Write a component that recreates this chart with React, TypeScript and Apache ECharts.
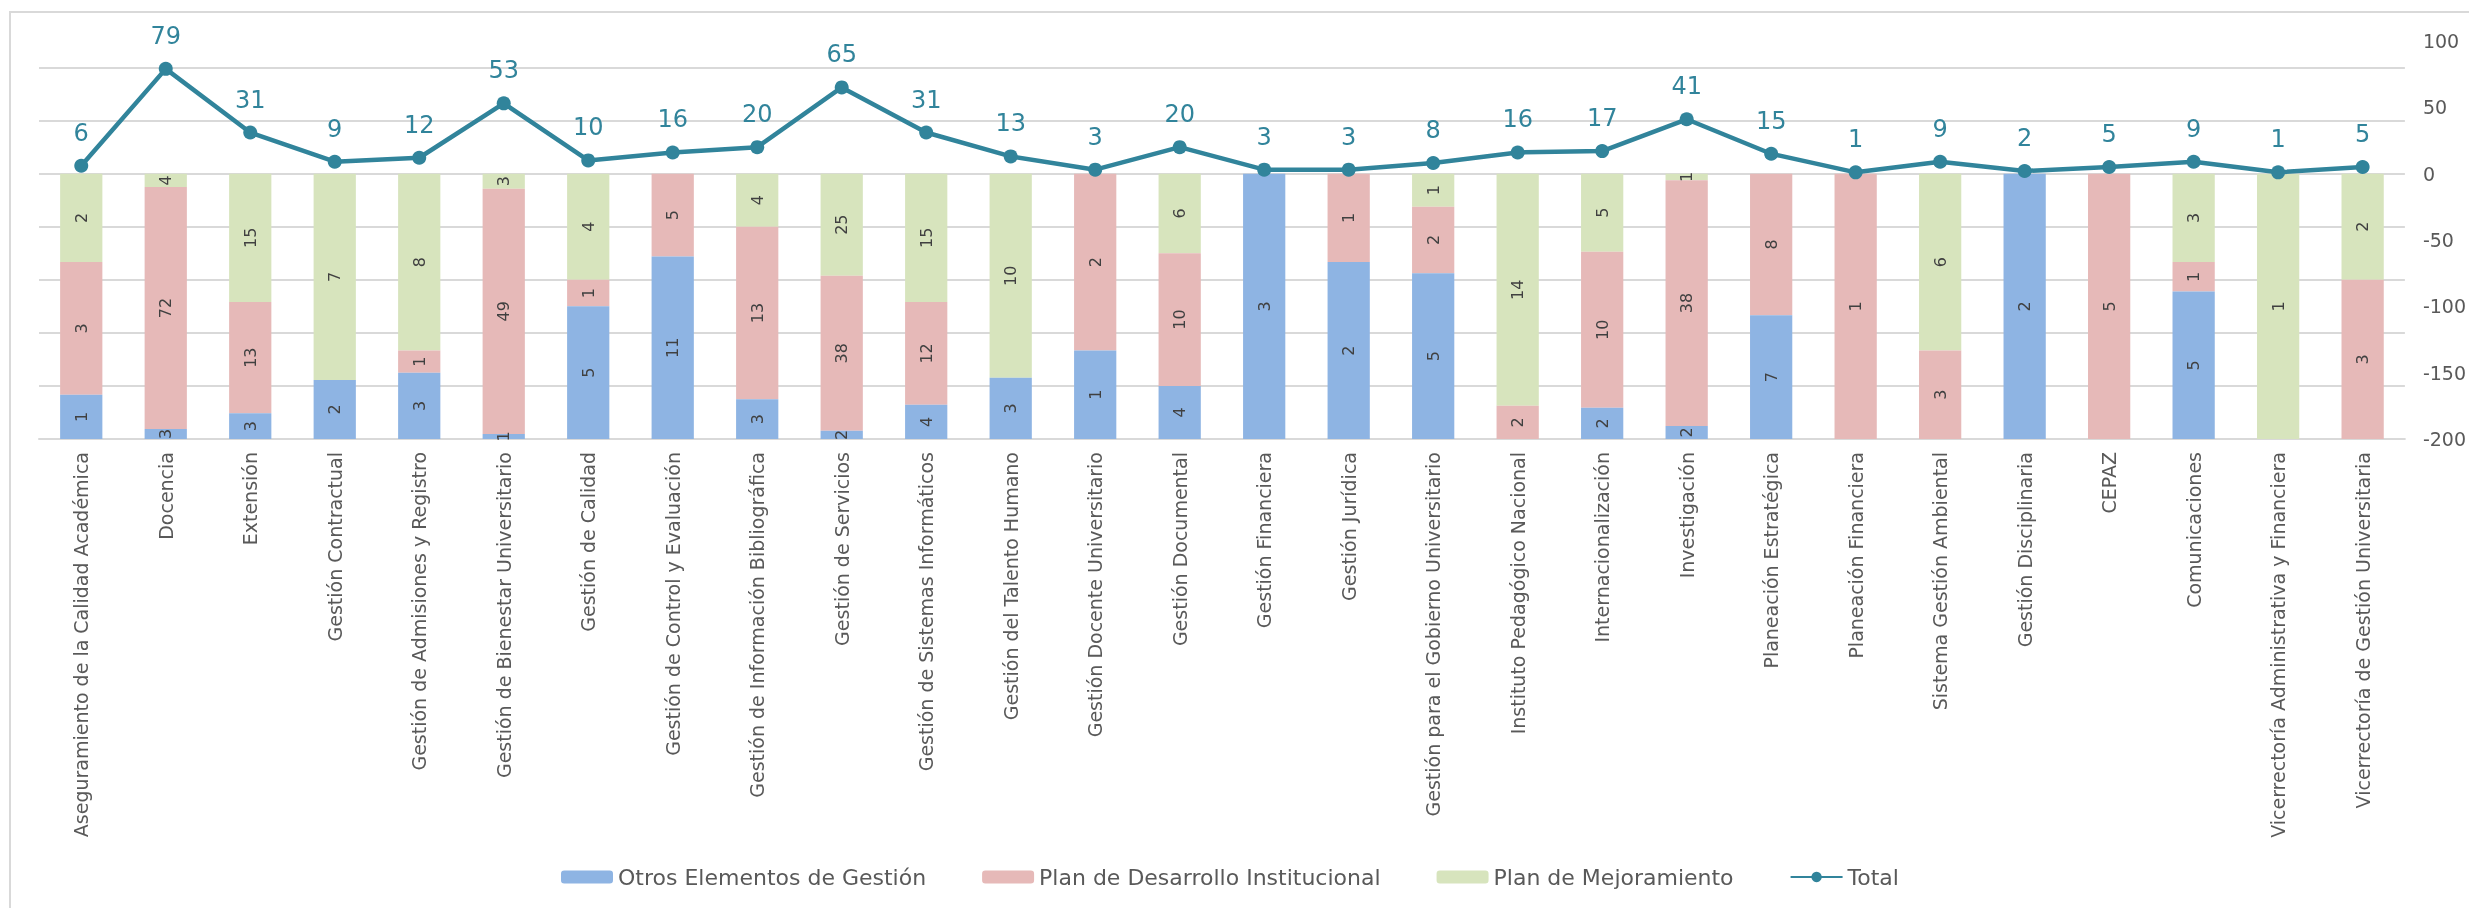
import React, { useEffect, useRef } from "react";
import * as echarts from "echarts";

const categories = [
  "Aseguramiento de la Calidad Académica",
  "Docencia",
  "Extensión",
  "Gestión Contractual",
  "Gestión de Admisiones y Registro",
  "Gestión de Bienestar Universitario",
  "Gestión de Calidad",
  "Gestión de Control y Evaluación",
  "Gestión de Información Bibliográfica",
  "Gestión de Servicios",
  "Gestión de Sistemas Informáticos",
  "Gestión del Talento Humano",
  "Gestión Docente Universitario",
  "Gestión Documental",
  "Gestión Financiera",
  "Gestión Jurídica",
  "Gestión para el Gobierno Universitario",
  "Instituto Pedagógico Nacional",
  "Internacionalización",
  "Investigación",
  "Planeación Estratégica",
  "Planeación Financiera",
  "Sistema Gestión Ambiental",
  "Gestión Disciplinaria",
  "CEPAZ",
  "Comunicaciones",
  "Vicerrectoría Administrativa y Financiera",
  "Vicerrectoría de Gestión Universitaria",
];

const otrosElementos = [1, 3, 3, 2, 3, 1, 5, 11, 3, 2, 4, 3, 1, 4, 3, 2, 5, 0, 2, 2, 7, 0, 0, 2, 0, 5, 0, 0];
const planDesarrollo = [3, 72, 13, 0, 1, 49, 1, 5, 13, 38, 12, 0, 2, 10, 0, 1, 2, 2, 10, 38, 8, 1, 3, 0, 5, 1, 0, 3];
const planMejoramiento = [2, 4, 15, 7, 8, 3, 4, 0, 4, 25, 15, 10, 0, 6, 0, 0, 1, 14, 5, 1, 0, 0, 6, 0, 0, 3, 1, 2];
const total = [6, 79, 31, 9, 12, 53, 10, 16, 20, 65, 31, 13, 3, 20, 3, 3, 8, 16, 17, 41, 15, 1, 9, 2, 5, 9, 1, 5];

// share axis (percent of each bar), hidden; right axis for the total line
const gridValues = [-40, -20, 0, 20, 40, 60, 80];

const C_BLUE = "#8EB4E3";
const C_PINK = "#E6B9B8";
const C_GREEN = "#D7E4BD";
const C_LINE = "#31849B";
const C_GRID = "#D9D9D9";
const C_TEXT = "#595959";

function share(raw: number[]) {
  return raw.map((v, i) => {
    const s = otrosElementos[i] + planDesarrollo[i] + planMejoramiento[i];
    return v === 0 ? "-" : (v / s) * 100;
  });
}

export default function App() {
  const ref = useRef<HTMLDivElement>(null);

  useEffect(() => {
    if (!ref.current) return;
    const chart = echarts.init(ref.current, null, { renderer: "svg" });

    const barLabel = (raw: number[]) => ({
      show: true,
      position: "inside",
      rotate: 90,
      fontSize: 16,
      color: "#404040",
      formatter: (p: any) => String(raw[p.dataIndex]),
    });

    chart.setOption({
      animation: false,
      textStyle: { fontFamily: "DejaVu Sans" },
      graphic: [
        {
          type: "rect",
          z: -10,
          silent: true,
          shape: { x: 10, y: 12, width: 2600, height: 1000 },
          style: { fill: "none", stroke: C_GRID, lineWidth: 2 },
        },
      ],
      grid: { left: 39, right: 55, top: 41, bottom: 469 },
      legend: {
        left: 556,
        top: 861,
        itemWidth: 52,
        itemHeight: 13,
        itemGap: 56,
        textStyle: { fontSize: 22, color: C_TEXT, fontFamily: "DejaVu Sans" },
        data: [
          "Otros Elementos de Gestión",
          "Plan de Desarrollo Institucional",
          "Plan de Mejoramiento",
          "Total",
        ],
      },
      xAxis: {
        type: "category",
        data: categories,
        axisLine: { onZero: false, lineStyle: { color: C_GRID, width: 2 } },
        axisTick: { show: false },
        axisLabel: {
          interval: 0,
          rotate: 90,
          margin: 13,
          fontSize: 19,
          color: C_TEXT,
        },
      },
      yAxis: [
        {
          type: "value",
          inverse: true,
          min: -50,
          max: 100,
          show: false,
          splitLine: { show: false },
        },
        {
          type: "value",
          position: "right",
          min: -200,
          max: 100,
          interval: 50,
          axisLine: { show: false },
          axisTick: { show: false },
          splitLine: { show: false },
          axisLabel: { fontSize: 19, color: C_TEXT, margin: 18 },
        },
      ],
      series: [
        {
          name: "Plan de Mejoramiento",
          type: "bar",
          stack: "share",
          yAxisIndex: 0,
          barWidth: "50%",
          z: 2,
          itemStyle: { color: C_GREEN },
          label: barLabel(planMejoramiento),
          data: share(planMejoramiento),
          markLine: {
            silent: true,
            z: 1,
            symbol: "none",
            label: { show: false },
            lineStyle: { color: C_GRID, width: 2, type: "solid" },
            data: gridValues.map((v) => ({ yAxis: v })),
          },
        },
        {
          name: "Plan de Desarrollo Institucional",
          type: "bar",
          stack: "share",
          yAxisIndex: 0,
          barWidth: "50%",
          z: 2,
          itemStyle: { color: C_PINK },
          label: barLabel(planDesarrollo),
          data: share(planDesarrollo),
        },
        {
          name: "Otros Elementos de Gestión",
          type: "bar",
          stack: "share",
          yAxisIndex: 0,
          barWidth: "50%",
          z: 2,
          itemStyle: { color: C_BLUE },
          label: barLabel(otrosElementos),
          data: share(otrosElementos),
        },
        {
          name: "Total",
          type: "line",
          yAxisIndex: 1,
          z: 5,
          symbol: "circle",
          symbolSize: 14,
          itemStyle: { color: C_LINE },
          lineStyle: { color: C_LINE, width: 4.5 },
          label: {
            show: true,
            position: "top",
            distance: 14,
            fontSize: 24,
            color: C_LINE,
          },
          data: total,
        },
      ],
    });

    return () => chart.dispose();
  }, []);

  return (
    <div
      ref={ref}
      style={{ position: "fixed", left: 0, top: 0, width: 2469, height: 908 }}
    />
  );
}
